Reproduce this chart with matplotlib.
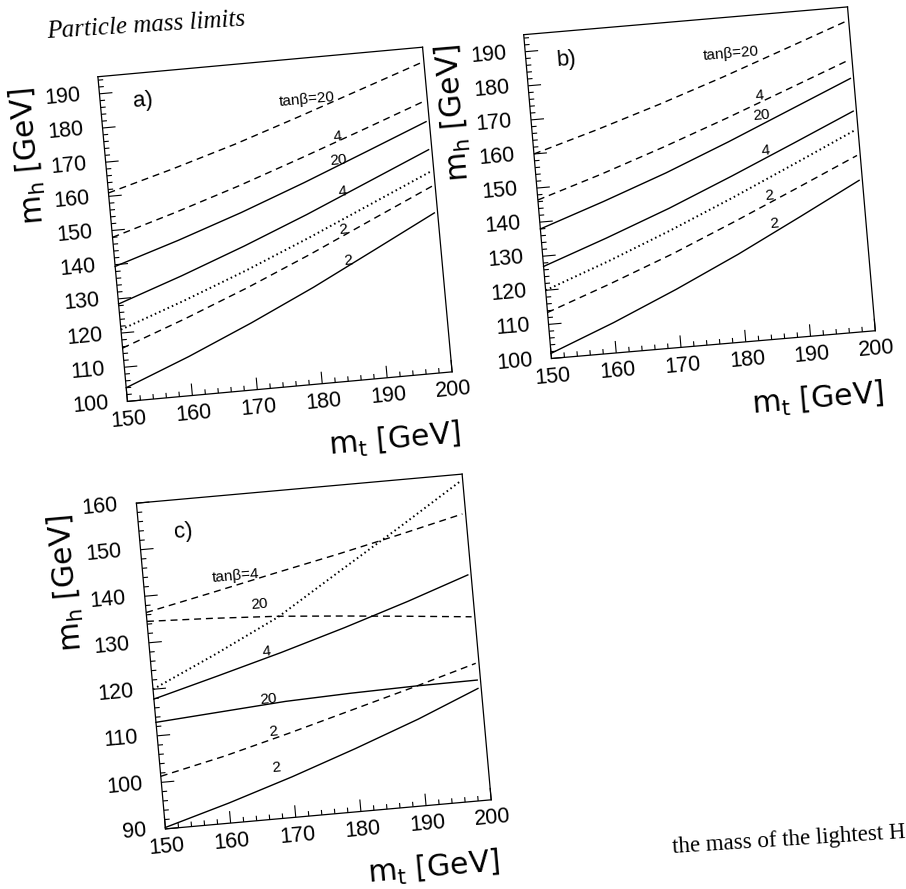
import numpy as np
import matplotlib
matplotlib.use("Agg")
import matplotlib.pyplot as plt
from matplotlib.transforms import Affine2D
import mpl_toolkits.axisartist.floating_axes as floating_axes

W, H = 906, 889

# top quark mass grid (GeV)
MT = [150, 160, 170, 180, 190, 199.5]

# panel a) m_h vs m_t
a_dash20 = [161.0, 166.2, 171.8, 178.0, 184.4, 190.5]
a_dash4 = [148.0, 153.6, 159.6, 166.1, 172.8, 179.3]
a_sol20 = [139.5, 145.4, 151.8, 158.8, 166.2, 173.3]
a_sol4 = [128.5, 135.0, 142.0, 149.5, 157.5, 165.1]
a_dot2 = [121.0, 127.7, 134.9, 142.7, 150.9, 158.7]
a_dash2 = [115.6, 122.5, 129.9, 137.9, 146.4, 154.4]
a_sol2 = [104.0, 111.4, 119.5, 128.2, 137.6, 146.6]

# panel b)
b_dash20 = [160.0, 165.5, 171.4, 177.7, 184.4, 190.8]
b_dash4 = [146.5, 152.4, 158.8, 165.6, 172.7, 179.5]
b_sol20 = [138.0, 144.4, 151.2, 158.7, 166.6, 174.1]
b_sol4 = [127.0, 133.7, 140.8, 148.6, 156.7, 164.5]
b_dot2 = [120.0, 126.9, 134.4, 142.4, 150.8, 158.9]
b_dash2 = [113.5, 120.3, 127.5, 135.4, 143.6, 151.5]
b_sol2 = [101.5, 108.9, 117.0, 125.7, 135.1, 144.2]

# panel c)
c_dash4 = [136.5, 139.4, 142.4, 145.3, 148.4, 151.5]
c_dash20 = [134.6, 134.0, 133.2, 132.0, 130.7, 129.4]
c_dot = [120.0, 126.3, 133.0, 141.6, 150.1, 158.4]
c_sol4 = [117.9, 121.6, 125.4, 129.5, 133.9, 138.4]
c_sol20 = [112.9, 113.9, 114.9, 115.4, 115.7, 115.8]
c_dash2 = [101.3, 104.4, 108.0, 111.8, 115.6, 119.4]
c_sol2 = [90.3, 94.3, 98.7, 103.5, 108.6, 114.0]

# curve labels: (text, m_t, m_h)
a_labels = [("tanβ=20", 181.6, 183.0), ("4", 185.7, 171.3), ("20", 185.5, 164.3),
            ("4", 185.7, 155.3), ("2", 185.4, 144.2), ("2", 185.7, 134.9)]
b_labels = [("tanβ=20", 181.6, 184.2), ("4", 185.3, 171.3), ("20", 185.3, 165.5),
            ("4", 185.6, 155.1), ("2", 185.5, 141.9), ("2", 185.9, 133.6)]
c_labels = [("tanβ=4", 164.2, 142.5), ("20", 167.4, 136.0), ("4", 167.8, 125.9),
            ("20", 167.4, 115.7), ("2", 167.7, 108.7), ("2", 167.7, 100.9)]

SOLID = '-'
DASHED = (0, (5, 3.5))
DOTTED = (0, (0.8, 1.6))

fig = plt.figure(figsize=(W / 100, H / 100), dpi=100)
fig.patch.set_facecolor('white')


def make_panel(cx, cy, side, angle, ylo, yhi, tag, tagpos):
    # scanned page is slightly rotated, so the axes are rotated too
    tr = (Affine2D().translate(-150, -ylo)
          .scale(1.0 / 50, 1.0 / (yhi - ylo))
          .rotate_deg(angle))
    gh = floating_axes.GridHelperCurveLinear(tr, extremes=(150, 200, ylo, yhi))
    rad = np.deg2rad(angle)
    box = side * (np.cos(rad) + np.sin(rad)) * 1.02
    rect = [(cx - box / 2) / W, 1 - (cy + box / 2) / H, box / W, box / H]
    ax = fig.add_axes(rect, axes_class=floating_axes.FloatingAxes, grid_helper=gh)
    for k in ["left", "right", "top", "bottom"]:
        ax.axis[k].toggle(ticks=False, ticklabels=False, label=False)
        ax.axis[k].line.set_linewidth(0.9)
    aux = ax.get_aux_axes(tr)

    px_x = side / 50.0
    px_y = side / (yhi - ylo)

    # inward ticks every 2 GeV, long ones every 10
    xt = np.arange(150, 201, 2)
    xl = np.where(xt % 10 == 0, 12, 5) / px_y
    aux.vlines(xt, ylo, ylo + xl, color='k', lw=0.8)
    yt = np.arange(ylo, yhi + 0.1, 2)
    yl = np.where(yt % 10 == 0, 13, 5) / px_x
    aux.hlines(yt, 150, 150 + yl, color='k', lw=0.8)

    for v in range(150, 201, 10):
        aux.text(v, ylo - 8 / px_y, str(v), ha='center', va='top',
                 rotation=angle, rotation_mode='anchor',
                 fontsize=15.5, family='Liberation Sans')
    for v in range(int(ylo), int(yhi) + 1, 10):
        aux.text(150 - 19 / px_x, v, str(v), ha='right', va='center',
                 rotation=angle, rotation_mode='anchor',
                 fontsize=15.5, family='Liberation Sans')

    aux.text(150 - 60 / px_x, yhi - 1, r'm$_\mathrm{h}$ [GeV]', ha='right', va='bottom',
             rotation=90 + angle, rotation_mode='anchor',
             fontsize=21.5, family='DejaVu Sans')
    aux.text(200 + 3 / px_x, ylo - 72 / px_y, r'm$_\mathrm{t}$ [GeV]', ha='right',
             va='baseline', rotation=angle, rotation_mode='anchor',
             fontsize=21.5, family='DejaVu Sans')
    aux.text(tagpos[0], tagpos[1], tag, ha='center', va='center',
             rotation=angle, fontsize=16, family='Liberation Sans')
    return aux


def draw_curves(aux, curves, labels, angle):
    for y, ls in curves:
        lw = 1.4 if ls is DOTTED else 1.0
        aux.plot(MT, y, color='k', lw=lw, linestyle=ls)
    for s, x, y in labels:
        aux.text(x, y, s, ha='center', va='center', rotation=angle,
                 fontsize=11, family='Liberation Sans')


aux_a = make_panel(275, 224.3, 326, 5.2, 100, 195, 'a)', (156.6, 186.9))
draw_curves(aux_a, [(a_dash20, DASHED), (a_dash4, DASHED), (a_sol20, SOLID),
                    (a_sol4, SOLID), (a_dot2, DOTTED), (a_dash2, DASHED),
                    (a_sol2, SOLID)], a_labels, 5.2)

aux_b = make_panel(699.5, 182.7, 325, 4.9, 100, 195, 'b)', (156.2, 186.7))
draw_curves(aux_b, [(b_dash20, DASHED), (b_dash4, DASHED), (b_sol20, SOLID),
                    (b_sol4, SOLID), (b_dot2, DOTTED), (b_dash2, DASHED),
                    (b_sol2, SOLID)], b_labels, 4.9)

aux_c = make_panel(313.8, 651.5, 327, 5.1, 90, 160, 'c)', (156.7, 153.1))
draw_curves(aux_c, [(c_dash4, DASHED), (c_dash20, DASHED), (c_dot, DOTTED),
                    (c_sol4, SOLID), (c_sol20, SOLID), (c_dash2, DASHED),
                    (c_sol2, SOLID)], c_labels, 5.1)

# page header and the start of the caption
fig.text(47 / W, 1 - 38 / H, 'Particle mass limits', fontsize=18, fontstyle='italic',
         family='Liberation Serif', rotation=3.6, rotation_mode='anchor',
         ha='left', va='baseline')
fig.text(673 / W, 1 - 853 / H, 'the mass of the lightest H', fontsize=16.5,
         family='Liberation Serif', rotation=3.7, rotation_mode='anchor',
         ha='left', va='baseline')

fig.savefig('out.png', dpi=100)
